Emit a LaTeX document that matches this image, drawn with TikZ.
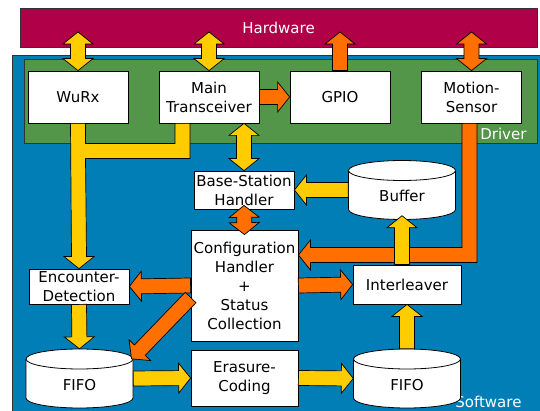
\documentclass[tikz,border=0pt]{standalone}
\usepackage{fontspec}
\setmainfont{DejaVu Sans}
\usepackage{xcolor}
\usepackage{tikz}
\usetikzlibrary{calc}
\definecolor{hwred}{RGB}{176,0,72}
\definecolor{swblue}{RGB}{0,126,181}
\definecolor{drvgreen}{RGB}{83,150,74}
\definecolor{flowyellow}{RGB}{255,204,0}
\definecolor{ctrlorange}{RGB}{255,112,0}

% fat arrow with one head: colour, from, to
\newcommand\fatarrow[3]{%
	\path (#2) coordinate (fa-s) (#3) coordinate (fa-e);
	\path ($(fa-e)!12pt!(fa-s)$) coordinate (fa-b);
	\draw[arrowline,fill=#1] ($(fa-s)!7.5pt!90:(fa-e)$) -- ($(fa-b)!7.5pt!90:(fa-e)$)
		-- ($(fa-b)!15pt!90:(fa-e)$) -- (fa-e) -- ($(fa-b)!-15pt!90:(fa-e)$)
		-- ($(fa-b)!-7.5pt!90:(fa-e)$) -- ($(fa-s)!-7.5pt!90:(fa-e)$) -- cycle;
}
% same with a head at both ends
\newcommand\fatdarrow[3]{%
	\path (#2) coordinate (fa-s) (#3) coordinate (fa-e);
	\path ($(fa-s)!12pt!(fa-e)$) coordinate (fa-a) ($(fa-e)!12pt!(fa-s)$) coordinate (fa-b);
	\draw[arrowline,fill=#1] (fa-s) -- ($(fa-a)!15pt!90:(fa-e)$) -- ($(fa-a)!7.5pt!90:(fa-e)$)
		-- ($(fa-b)!7.5pt!90:(fa-e)$) -- ($(fa-b)!15pt!90:(fa-e)$) -- (fa-e)
		-- ($(fa-b)!-15pt!90:(fa-e)$) -- ($(fa-b)!-7.5pt!90:(fa-e)$)
		-- ($(fa-a)!-7.5pt!90:(fa-e)$) -- ($(fa-a)!-15pt!90:(fa-e)$) -- cycle;
}
% drum shaped storage: name, centre, text
\newcommand\drawstore[3]{%
	\coordinate (#1-c) at (#2);
	\draw[storeline] ($(#1-c)+(-53.5,-19.5)$) -- ($(#1-c)+(-53.5,19.5)$)
		arc[start angle=180,end angle=360,x radius=53.5pt,y radius=10pt]
		-- ($(#1-c)+(53.5,-19.5)$)
		arc[start angle=0,end angle=180,x radius=53.5pt,y radius=10pt] -- cycle;
	\draw[storeline] ($(#1-c)+(-53.5,-19.5)$)
		arc[start angle=180,end angle=360,x radius=53.5pt,y radius=10pt];
	\node [storebox] (#1) at (#1-c) {#3};
}

\begin{document}
\begin{tikzpicture}[x=1pt,y=-1pt,font=\fontsize{15}{19}\selectfont,
	box/.style={draw,fill=white,line width=.8pt,align=center,inner sep=0pt,
		minimum width=100pt,minimum height=52pt},
	storebox/.style={inner sep=0pt,minimum width=107pt,minimum height=59pt,
		text height=24pt,text depth=0pt},
	storeline/.style={draw=black,fill=white,line width=.8pt},
	layer/.style={draw=black!80,line width=.8pt},
	arrowline/.style={draw=black,line width=.7pt,line join=miter}]
	
	\useasboundingbox (0,0) rectangle (540,411);
	
	% the three layers
	\draw[layer,fill=swblue] (12,55) rectangle (545,420);
	\draw[layer,fill=drvgreen] (24,59) rectangle (537,143);
	\draw[layer,fill=hwred] (20,8) rectangle (537,47);
	\node [white] (hw) at (278.5,27.5) {Hardware};
	\node [white,anchor=base east] (drv) at (530,140) {Driver};
	\node [white,anchor=base east] (sw) at (525,407) {Software};
	
	% driver boxes
	\node [box] (wurx) at (78,97) {WuRx};
	\node [box] (main) at (209,97) {Main\\Transceiver};
	\node [box] (gpio) at (340,97) {GPIO};
	\node [box] (motion) at (471.5,97) {Motion-\\Sensor};
	
	% software blocks
	\node [box,minimum height=38pt] (bs) at (244,190) {Base-Station\\Handler};
	\node [box,minimum width=107pt,minimum height=111pt] (conf) at (244.5,285.5) {Configuration\\Handler\\+\\Status\\Collection};
	\node [box,minimum height=35pt] (enc) at (79,286.5) {Encounter-\\Detection};
	\node [box,minimum width=108pt,minimum height=39pt] (inter) at (407,284.5) {Interleaver};
	\node [box,minimum width=107pt,minimum height=56pt] (erasure) at (244.5,378) {Erasure-\\Coding};
	\drawstore{buffer}{402,190}{Buffer}
	\drawstore{fifoA}{79.5,378.5}{FIFO}
	\drawstore{fifoB}{407,378.5}{FIFO}
	
	% links up to the hardware
	\coordinate (hw-wurx) at (wurx.north |- 0,32);
	\coordinate (hw-main) at (main.north |- 0,32);
	\coordinate (hw-gpio) at (gpio.north |- 0,32);
	\coordinate (hw-motion) at (motion.north |- 0,32);
	\fatdarrow{flowyellow}{hw-wurx}{wurx.north}
	\fatdarrow{flowyellow}{hw-main}{main.north}
	\fatarrow{ctrlorange}{gpio.north}{hw-gpio}
	\fatdarrow{ctrlorange}{hw-motion}{motion.north}
	
	\fatarrow{ctrlorange}{main.east}{gpio.west}
	\fatdarrow{flowyellow}{bs.north |- main.south}{bs.north}
	
	% WuRx and transceiver merge into the detection
	\path (wurx.south) coordinate (w0) (enc.north) coordinate (w1)
		($(main.south)+(-26.5,0)$) coordinate (m0);
	\path (m0 |- 0,151) coordinate (m1) (w0 |- m1) coordinate (wm);
	\draw[arrowline,fill=flowyellow]
		($(w0)+(-7.5,0)$) -- ($(w1)+(-7.5,-12)$) -- ($(w1)+(-15,-12)$) -- (w1)
		-- ($(w1)+(15,-12)$) -- ($(w1)+(7.5,-12)$) -- ($(wm)+(7.5,7.5)$) -- ($(m1)+(7.5,7.5)$)
		-- ($(m0)+(7.5,0)$) -- ($(m0)+(-7.5,0)$) -- ($(m1)+(-7.5,-7.5)$) -- ($(wm)+(7.5,-7.5)$)
		-- ($(w0)+(7.5,0)$) -- cycle;
	
	% motion sensor feeds the configuration handler
	\path ($(motion.south)+(-2,0)$) coordinate (o0) ($(conf.east)+(0,-30.5)$) coordinate (o2);
	\path (o0 |- o2) coordinate (o1);
	\draw[arrowline,fill=ctrlorange]
		($(o0)+(-7.5,0)$) -- ($(o1)+(-7.5,-7.5)$) -- ($(o2)+(12,-7.5)$) -- ($(o2)+(12,-15)$)
		-- (o2) -- ($(o2)+(12,15)$) -- ($(o2)+(12,7.5)$) -- ($(o1)+(7.5,7.5)$)
		-- ($(o0)+(7.5,0)$) -- cycle;
	
	\fatarrow{flowyellow}{buffer.west}{bs.east}
	\fatarrow{flowyellow}{buffer.south |- inter.north}{$(buffer.south)+(0,-4)$}
	\fatdarrow{ctrlorange}{$(bs.south)+(0,-4)$}{$(conf.north)+(0,5)$}
	
	\fatarrow{ctrlorange}{conf.west}{enc.east}
	\fatarrow{ctrlorange}{conf.east}{inter.west}
	\fatarrow{ctrlorange}{$(conf.west)+(0,12)$}{$(fifoA.north)+(52,10)$}
	
	% data path
	\fatarrow{flowyellow}{enc.south}{fifoA.north}
	\fatarrow{flowyellow}{fifoA.east}{erasure.west}
	\fatarrow{flowyellow}{erasure.east}{fifoB.west}
	\fatarrow{flowyellow}{fifoB.north}{inter.south}
	
\end{tikzpicture}
\end{document}
